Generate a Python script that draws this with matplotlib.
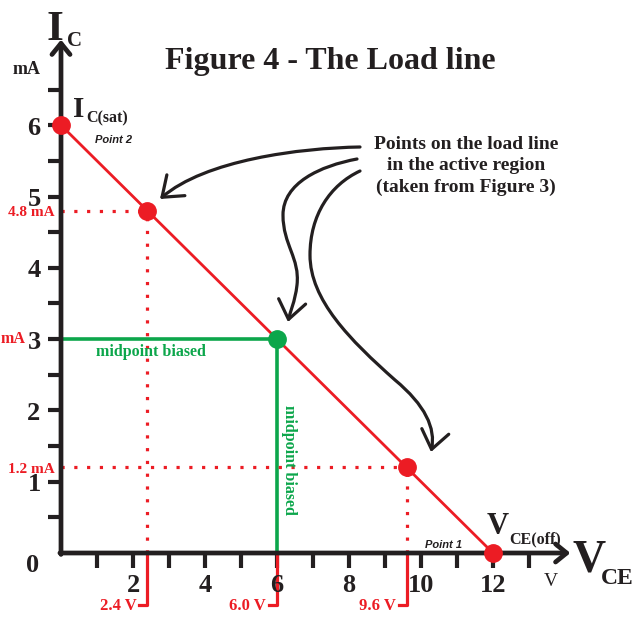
import matplotlib.pyplot as plt
import numpy as np
from matplotlib.patches import FancyArrowPatch
from matplotlib.path import Path

# load line end points
ic_sat = 6.0
vce_off = 12.0

# operating points in the active region
q_vce = [2.4, 6.0, 9.6]
q_ic = [4.8, 3.0, 1.2]
q_vlabels = ["2.4 V", "6.0 V", "9.6 V"]
q_ilabels = ["4.8 mA", "mA", "1.2 mA"]

x_major = [2, 4, 6, 8, 10, 12]
x_minor = list(range(1, 14))
y_major = [1, 2, 3, 4, 5, 6]
y_minor = [0.5 * i for i in range(1, 14)]

RED = '#ec1c24'
GREEN = '#0ca64b'
BLACK = '#231f20'
SERIF = 'Liberation Serif'
SANS = 'Liberation Sans'

# pixel -> data helpers for the hand-drawn arrows
X0, Y0, SX, SY = 61.0, 553.0, 36.0, 71.3


def px(x, y):
    return ((x - X0) / SX, (Y0 - y) / SY)


fig = plt.figure(figsize=(6.4, 6.2), dpi=100)
ax = fig.add_axes([0, 0, 1, 1])
ax.set_xlim(-X0 / SX, (640 - X0) / SX)
ax.set_ylim(-(620 - Y0) / SY, Y0 / SY)
ax.axis('off')

# axes with open arrowheads
head = '->,head_length=0.8,head_width=0.65'
ax.annotate('', xy=(14.15, 0), xytext=(-0.03, 0),
            arrowprops=dict(arrowstyle=head, lw=3.4, color=BLACK,
                            shrinkA=0, shrinkB=0))
ax.annotate('', xy=(0, 7.2), xytext=(0, -0.02),
            arrowprops=dict(arrowstyle=head, lw=3.4, color=BLACK,
                            shrinkA=0, shrinkB=0))

# tick marks
for x in x_minor:
    ax.plot([x, x], [0, -15 / SY], color=BLACK, lw=3, solid_capstyle='butt')
for y in y_minor:
    ax.plot([-13 / SX, 0], [y, y], color=BLACK, lw=3, solid_capstyle='butt')
for x in x_major:
    ax.text(x, -32 / SY, str(x), fontsize=19, fontweight='bold', family=SERIF,
            color=BLACK, ha='center', va='center')
for y in y_major:
    ax.text(-27 / SX, y - 3 / SY, str(y), fontsize=19, fontweight='bold',
            family=SERIF, color=BLACK, ha='center', va='center')
ax.text(-28 / SX, -13 / SY, '0', fontsize=19, fontweight='bold', family=SERIF,
        color=BLACK, ha='center', va='center')

# axis names
ax.text(*px(47, 30), 'I', fontsize=31, fontweight='bold', family=SERIF,
        color=BLACK, ha='left', va='center')
ax.text(*px(67, 41), 'C', fontsize=15, fontweight='bold', family=SERIF,
        color=BLACK, ha='left', va='center')
ax.text(*px(27, 70), 'mA', fontsize=13, fontweight='bold', family=SERIF,
        color=BLACK, ha='center', va='center')
ax.text(*px(572, 560), 'V', fontsize=33, fontweight='bold', family=SERIF,
        color=BLACK, ha='left', va='center')
ax.text(*px(601, 579), 'CE', fontsize=17, fontweight='bold', family=SERIF,
        color=BLACK, ha='left', va='center')
ax.text(*px(551, 581), 'V', fontsize=14, family=SERIF,
        color=BLACK, ha='center', va='center')

ax.text(*px(330, 62), 'Figure 4 - The Load line', fontsize=23,
        fontweight='bold', family=SERIF, color=BLACK, ha='center', va='center')

# reference lines to the operating points
for v, i, vl, il in zip(q_vce, q_ic, q_vlabels, q_ilabels):
    mid = v == vce_off / 2
    if mid:
        ax.plot([0, v], [i, i], color=GREEN, lw=2.6)
        ax.plot([v, v], [0, i], color=GREEN, lw=2.6)
        ax.text(-48 / SX, i, il, fontsize=11.5, fontweight='bold',
                family=SERIF, color=RED, ha='center', va='center')
    else:
        ax.plot([0, v], [i, i], color=RED, lw=2.3, ls=(0, (1, 3)))
        ax.plot([v, v], [0, i], color=RED, lw=2.3, ls=(0, (1, 3)))
        ax.text(-6 / SX, i - 2 / SY, il, fontsize=11, fontweight='bold',
                family=SERIF, color=RED, ha='right', va='center')
    # bracket below the x axis
    ax.plot([v - 8 / SX, v, v], [-52 / SY, -52 / SY, 0], color=RED, lw=2.3)
    ax.text(v - 11 / SX, -53 / SY, vl, fontsize=12, fontweight='bold',
            family=SERIF, color=RED, ha='right', va='center')

ax.text(*px(151, 352), 'midpoint biased', fontsize=11.5, fontweight='bold',
        family=SERIF, color=GREEN, ha='center', va='center')
ax.text(*px(289, 460), 'midpoint biased', fontsize=11.5, fontweight='bold',
        family=SERIF, color=GREEN, ha='center', va='center', rotation=-90)

# load line and its points
ax.plot([0, vce_off], [ic_sat, 0], color=RED, lw=2, zorder=3)
ax.plot([0, vce_off], [ic_sat, 0], 'o', color=RED, ms=12.5, zorder=4)
for v, i in zip(q_vce, q_ic):
    ax.plot(v, i, 'o', color=GREEN if v == vce_off / 2 else RED,
            ms=12.5, zorder=4)

# end point labels
ax.text(*px(73, 110), 'I', fontsize=21, fontweight='bold', family=SERIF,
        color=BLACK, ha='left', va='center')
ax.text(*px(86, 118), 'C(sat)', fontsize=11.5, fontweight='bold',
        family=SERIF, color=BLACK, ha='left', va='center')
ax.text(*px(95, 140), 'Point 2', fontsize=8, fontweight='bold', style='italic',
        family=SANS, color=BLACK, ha='left', va='center')
ax.text(*px(487, 527), 'V', fontsize=22, fontweight='bold', family=SERIF,
        color=BLACK, ha='left', va='center')
ax.text(*px(509, 539), 'CE(off)', fontsize=11.5, fontweight='bold',
        family=SERIF, color=BLACK, ha='left', va='center')
ax.text(*px(425, 545), 'Point 1', fontsize=8, fontweight='bold', style='italic',
        family=SANS, color=BLACK, ha='left', va='center')

# callout text and curved arrows
ax.text(*px(466, 166), 'Points on the load line\nin the active region\n(taken from Figure 3)',
        fontsize=14, fontweight='bold', family=SERIF, color=BLACK,
        ha='center', va='center', linespacing=1.35)

C = Path.CURVE4
curves = [
    [(360, 147), (300, 148), (205, 160), (160, 199)],
    [(357, 159), (320, 166), (283, 183), (283, 215),
     (283, 245), (300, 258), (297, 285),
     (295, 302), (290, 312), (288, 322)],
    [(360, 171), (330, 185), (310, 215), (310, 255),
     (310, 300), (350, 340), (395, 380),
     (425, 405), (436, 428), (431, 452)],
]
for pts in curves:
    verts = [px(*p) for p in pts]
    codes = [Path.MOVETO] + [C] * (len(verts) - 1)
    arr = FancyArrowPatch(path=Path(verts, codes),
                          arrowstyle='->,head_length=0.6,head_width=0.45',
                          mutation_scale=22, lw=2.3, color=BLACK)
    ax.add_patch(arr)

fig.savefig('out.png', dpi=100)
